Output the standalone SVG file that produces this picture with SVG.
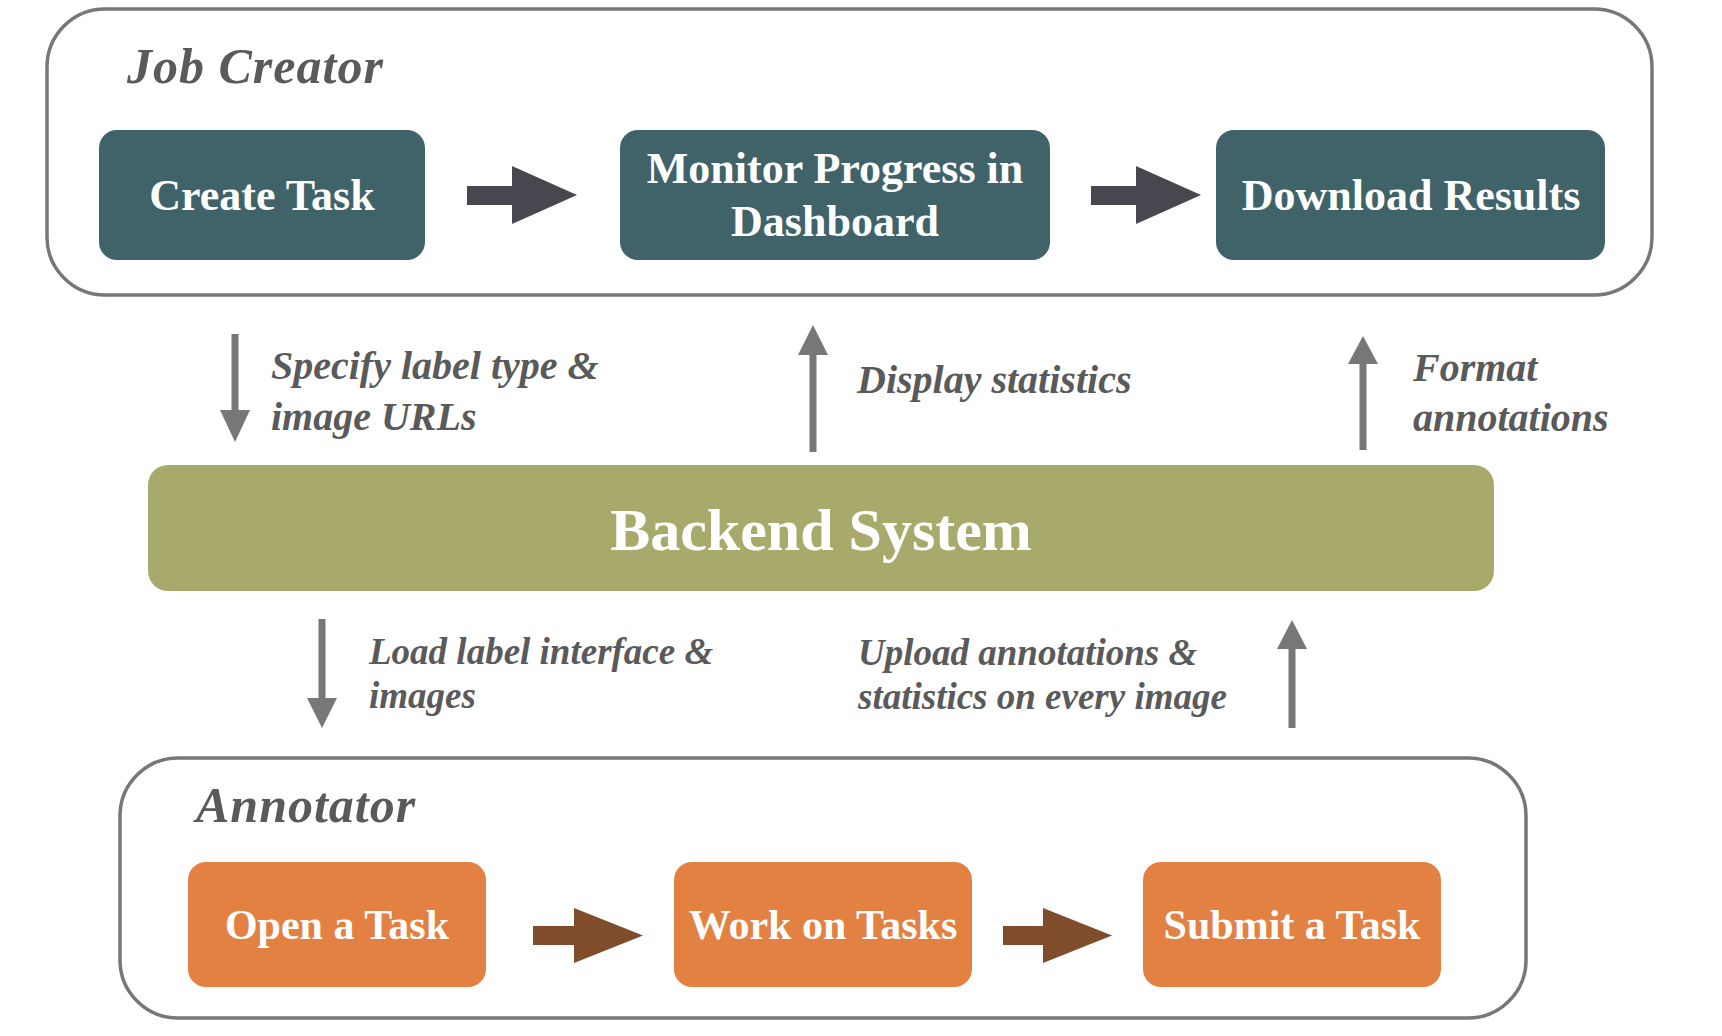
<svg xmlns="http://www.w3.org/2000/svg" width="1722" height="1036" viewBox="0 0 1722 1036">
<style>
.frame{fill:#fff;stroke:#777;stroke-width:3.5}
.teal{fill:#3f6368}
.olive{fill:#a8aa6b}
.orange{fill:#e28142}
.nt{font-family:"Liberation Serif","Times New Roman",serif;font-weight:bold;fill:#fff;text-anchor:middle}
.title{font-family:"Liberation Serif","Times New Roman",serif;font-weight:bold;font-style:italic;fill:#5a5a5a;font-size:50px;letter-spacing:1px}
.lbl{font-family:"Liberation Serif","Times New Roman",serif;font-weight:bold;font-style:italic;fill:#5a5a5a}
.conn{stroke:#777;stroke-width:7;fill:none}
.head{fill:#777}
.darr{fill:#4a4650}
.barr{fill:#7f4d2c}
</style>
<rect width="1722" height="1036" fill="#fff"/>
<g id="job-creator">
<rect class="frame" x="47" y="9" width="1605" height="286" rx="58" ry="58"/>
<text class="title" x="127" y="83">Job Creator</text>
</g>
<g id="annotator">
<rect class="frame" x="120" y="758" width="1406" height="260" rx="58" ry="58"/>
<text class="title" x="196" y="822">Annotator</text>
</g>
<g id="create-task">
<rect class="teal" x="99" y="130" width="326" height="130" rx="18"/>
<text class="nt" x="262" y="210" font-size="44">Create Task</text>
</g>
<g id="monitor-progress">
<rect class="teal" x="620" y="130" width="430" height="130" rx="18"/>
<text class="nt" x="835" y="183" font-size="44">Monitor Progress in</text>
<text class="nt" x="835" y="236" font-size="44">Dashboard</text>
</g>
<g id="download-results">
<rect class="teal" x="1216" y="130" width="389" height="130" rx="18"/>
<text class="nt" x="1411" y="210" font-size="44">Download Results</text>
</g>
<g id="backend-system">
<rect class="olive" x="148" y="465" width="1346" height="126" rx="20"/>
<text class="nt" x="821" y="550" font-size="60">Backend System</text>
</g>
<g id="open-task">
<rect class="orange" x="188" y="862" width="298" height="125" rx="18"/>
<text class="nt" x="337" y="939" font-size="42">Open a Task</text>
</g>
<g id="work-tasks">
<rect class="orange" x="674" y="862" width="298" height="125" rx="18"/>
<text class="nt" x="823" y="939" font-size="42">Work on Tasks</text>
</g>
<g id="submit-task">
<rect class="orange" x="1143" y="862" width="298" height="125" rx="18"/>
<text class="nt" x="1292" y="939" font-size="42">Submit a Task</text>
</g>
<g id="connectors">
<polygon class="darr" points="467,186 512,186 512,166 577,195 512,224 512,205 467,205"/>
<polygon class="darr" points="1091,186 1136,186 1136,166 1201,195 1136,224 1136,205 1091,205"/>
<polygon class="barr" points="533,926 574,926 574,908 643,935.5 574,963 574,945 533,945"/>
<polygon class="barr" points="1003,926 1043,926 1043,908 1112,935.5 1043,963 1043,945 1003,945"/>
<line class="conn" x1="235" y1="334" x2="235" y2="412"/>
<polygon class="head" points="220,410 250,410 235,442"/>
<line class="conn" x1="813" y1="452" x2="813" y2="352"/>
<polygon class="head" points="798,355 828,355 813,325"/>
<line class="conn" x1="1363" y1="450" x2="1363" y2="362"/>
<polygon class="head" points="1348,364 1378,364 1363,336"/>
<line class="conn" x1="322" y1="619" x2="322" y2="700"/>
<polygon class="head" points="307,698 337,698 322,728"/>
<line class="conn" x1="1292" y1="728" x2="1292" y2="646"/>
<polygon class="head" points="1277,649 1307,649 1292,620"/>
<text class="lbl" font-size="40"><tspan x="271" y="379">Specify label type &amp;</tspan><tspan x="271" y="430">image URLs</tspan></text>
<text class="lbl" font-size="40" x="857" y="393">Display statistics</text>
<text class="lbl" font-size="40"><tspan x="1413" y="381">Format</tspan><tspan x="1413" y="431">annotations</tspan></text>
<text class="lbl" font-size="37"><tspan x="369" y="664">Load label interface &amp;</tspan><tspan x="369" y="708">images</tspan></text>
<text class="lbl" font-size="37"><tspan x="858" y="665">Upload annotations &amp;</tspan><tspan x="858" y="709">statistics on every image</tspan></text>
</g>
</svg>
